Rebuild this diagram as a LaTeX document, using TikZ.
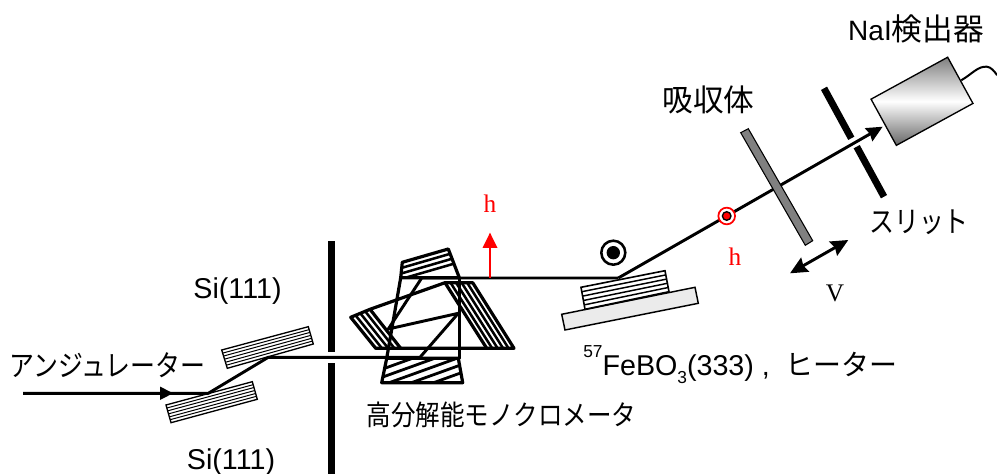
\documentclass[tikz,border=0pt]{standalone}
\usepackage{fontspec}
\setmainfont{Liberation Sans}
\newfontfamily\jpfont{Noto Sans CJK JP}
\newfontfamily\serifface{Liberation Serif}
\usetikzlibrary{calc,arrows.meta}
\tikzset{
  px/.style={x=0.75pt,y=-0.75pt},
  beam/.style={line width=2.2pt,black},
  edge/.style={line width=2.4pt,black,line join=round,line cap=round},
  thinbox/.style={line width=1pt,black,line join=miter},
  hatchthin/.style={line width=0.75pt,black},
  hatchthick/.style={line width=1.9pt,black},
  lab/.style={inner sep=0pt,font=\fontsize{21.5pt}{21.5pt}\selectfont},
  jplab/.style={inner sep=0pt,font=\fontsize{22pt}{22pt}\selectfont\jpfont},
  redlab/.style={inner sep=0pt,text=red,font=\fontsize{19pt}{19pt}\selectfont\serifface},
}
\begin{document}
\begin{tikzpicture}[px]
\useasboundingbox (0,0) rectangle (997,474);
% named points
\coordinate (start) at (23,393.3);
\coordinate (si1) at (208.3,393.3);
\coordinate (si2) at (268.3,357.3);
\coordinate (m1) at (420,357.3);
\coordinate (m2) at (458.3,313.3);
\coordinate (m3) at (388.3,329);
\coordinate (m4) at (421.7,278);
\coordinate (samp) at (618.3,278);
\coordinate (dettip) at (882.7,126.7);
% walls
\fill[black] (327.5,241) rectangle (335,351.7);
\fill[black] (327.5,363.3) rectangle (335,474);
% beam upstream
\draw[beam,line join=round] (start) -- (si1) -- (si2) -- (m1) -- (m2) -- (m3) -- (m4) -- (samp);
\fill[black] (173,393.3) -- (160,386.5) -- (160,400) -- cycle;
% Si crystals
\coordinate (ua) at (221.7,350); \coordinate (ub) at (308.3,326.7); \coordinate (uc) at (313.3,344); \coordinate (ud) at (227.3,368.3);
\foreach \t in {0.17,0.33,0.5,0.67,0.83} \draw[hatchthin] ($(ua)!\t!(ud)$) -- ($(ub)!\t!(uc)$);
\draw[thinbox] (ua) -- (ub) -- (uc) -- (ud) -- cycle;
\coordinate (la) at (166,405); \coordinate (lb) at (252.3,381.7); \coordinate (lc) at (257.3,399.3); \coordinate (ld) at (171,422.7);
\foreach \t in {0.17,0.33,0.5,0.67,0.83} \draw[hatchthin] ($(la)!\t!(ld)$) -- ($(lb)!\t!(lc)$);
\draw[thinbox] (la) -- (lb) -- (lc) -- (ld) -- cycle;
% top monochromator crystal
\begin{scope}
\clip (402.3,262.3) -- (448.3,249) -- (459.3,277.7) -- (400.7,277.7) -- cycle;
\foreach \d in {5.5,11,16.5} \draw[hatchthick] (395,264.3+\d) -- (465,244+\d);
\end{scope}
\draw[edge] (400.7,277.7) -- (402.3,262.3) -- (448.3,249) -- (459.3,277.7) -- cycle;
% left crystal
\coordinate (pa) at (350.7,317.3); \coordinate (pb) at (375.7,348.3); \coordinate (pc) at (370,309.3); \coordinate (pd) at (400.7,348.3);
\foreach \t in {0.25,0.5,0.75} \draw[hatchthick] ($(pa)!\t!(pc)$) -- ($(pb)!\t!(pd)$);
% right crystal
\coordinate (ra) at (445,282.7); \coordinate (rb) at (486.7,348.3); \coordinate (rc) at (472.7,282.7); \coordinate (rd) at (514,348.3);
\foreach \t in {0.2,0.4,0.6,0.8} \draw[hatchthick] ($(ra)!\t!(rc)$) -- ($(rb)!\t!(rd)$);
% frame of left and right crystals
\draw[edge] (rd) -- (rc) -- (ra) -- (pc) -- (pa) -- (pb) -- cycle;
\draw[edge] (pc) -- (pd);
\draw[edge] (ra) -- (rb);
% bottom crystal
\begin{scope}
\clip (386.7,358.3) -- (458.3,358.3) -- (462.7,382.7) -- (381.7,382.7) -- cycle;
\foreach \d in {0,8,16,24,32} \draw[line width=2.1pt] (380,370+\d) -- (465,339.4+\d);
\end{scope}
\draw[edge] (386.7,358.3) -- (458.3,358.3) -- (462.7,382.7) -- (381.7,382.7) -- cycle;
\draw[edge] (400.7,277.7) -- (386.7,358.3);
\draw[edge] (459.3,277.7) -- (459.3,358.3);
% red field arrow
\coordinate (rarrowbase) at (490,278);
\coordinate (rarrowtip) at (490,232.7);
\draw[line width=1.5pt,red] (rarrowbase) -- (490,246);
\fill[red] (rarrowtip) -- (482.5,248) -- (497.5,248) -- cycle;
\node[redlab] (h1) at (490,204) {h};
% circled dot
\node[circle,draw=black,line width=1.9pt,minimum size=18pt,inner sep=0pt,fill=white] (cdot) at (613.3,252.7) {};
\fill[black] (cdot.center) circle (6.7);
% sample
\draw[thinbox,line width=1.1pt,fill=black!8] (561.7,314.3) -- (695,287.3) -- (698.3,303.3) -- (565,330) -- cycle;
\coordinate (sa) at (581,287.3); \coordinate (sb) at (665,270.7); \coordinate (sc) at (669,291.7); \coordinate (sd) at (585,309.3);
\fill[white] (sa) -- (sb) -- (sc) -- (sd) -- cycle;
\foreach \t in {0.2,0.4,0.6,0.8} \draw[line width=1.1pt] ($(sa)!\t!(sd)$) -- ($(sb)!\t!(sc)$);
\draw[thinbox,line width=1.2pt] (sa) -- (sb) -- (sc) -- (sd) -- cycle;
% beam downstream
\draw[beam,-{Stealth[length=12pt,width=11pt,inset=1pt]}] (samp) -- (dettip);
% red mark
\node[circle,draw=red,line width=1.3pt,minimum size=12.5pt,inner sep=0pt,fill=white] (rmark) at (726.7,216) {};
\draw[black,line width=1pt,fill=red] (rmark.center) circle (4.3);
\node[redlab] (h2) at (735,257) {h};
% absorber
\draw[thinbox,line width=0.8pt,fill=black!50] (740.7,132.7) -- (748.3,128.7) -- (812.7,240.7) -- (805.3,245.3) -- cycle;
% slit
\draw[line width=5.2pt,black] (824,88.3) -- (851.3,138.3);
\draw[line width=5.2pt,black] (856.7,146.7) -- (884,196.7);
% detector
\draw[line width=1.5pt,black,line cap=round] (961.7,80) .. controls (972,74) and (978,66) .. (986.7,66.7) .. controls (991,67) and (994,71) .. (997,75);
\node[draw=black,line width=1pt,rotate=28.7,minimum width=65.5pt,minimum height=39.5pt,inner sep=0pt,top color=black!50,bottom color=black!60,middle color=white] (det) at (922,101.3) {};
% double arrow
\coordinate (va) at (790,273.3); \coordinate (vb) at (848.3,240);
\draw[{Stealth[length=13pt,width=12pt,inset=1.5pt]}-{Stealth[length=13pt,width=12pt,inset=1.5pt]},line width=2.2pt] (va) -- (vb);
% labels
\node[lab] (lbsi1) at (237.5,291) {Si(111)};
\node[lab] (lbsi2) at (231,461.7) {Si(111)};
\node[jplab] (lbund) at (107.5,365) {\scalebox{0.85}[1]{アンジュレーター}};
\node[jplab,font=\fontsize{21pt}{21pt}\selectfont\jpfont] (lbmono) at (501.5,415) {\scalebox{0.876}[1]{高分解能モノクロメータ}};
\node[lab,anchor=base west] (lbsamp) at (583,375) {\raisebox{0.6em}{\fontsize{13pt}{13pt}\selectfont 57}FeBO\raisebox{-0.3em}{\fontsize{13pt}{13pt}\selectfont 3}(333)\hspace{0.28em},\hspace{0.55em}{\jpfont\scalebox{0.975}[1]{ヒーター}}};
\node[jplab] (lbslit) at (919,222) {\scalebox{0.85}[1]{スリット}};
\node[jplab,font=\fontsize{23pt}{23pt}\selectfont\jpfont] (lbabs) at (708.5,100) {吸収体};
\node[lab] (lbnai) at (916,29) {\fontsize{21pt}{21pt}\selectfont NaI{\fontsize{23pt}{23pt}\selectfont\jpfont 検出器}};
\node[inner sep=0pt,font=\fontsize{19pt}{19pt}\selectfont\serifface] (lbv) at (835,293) {V};
\end{tikzpicture}
\end{document}
